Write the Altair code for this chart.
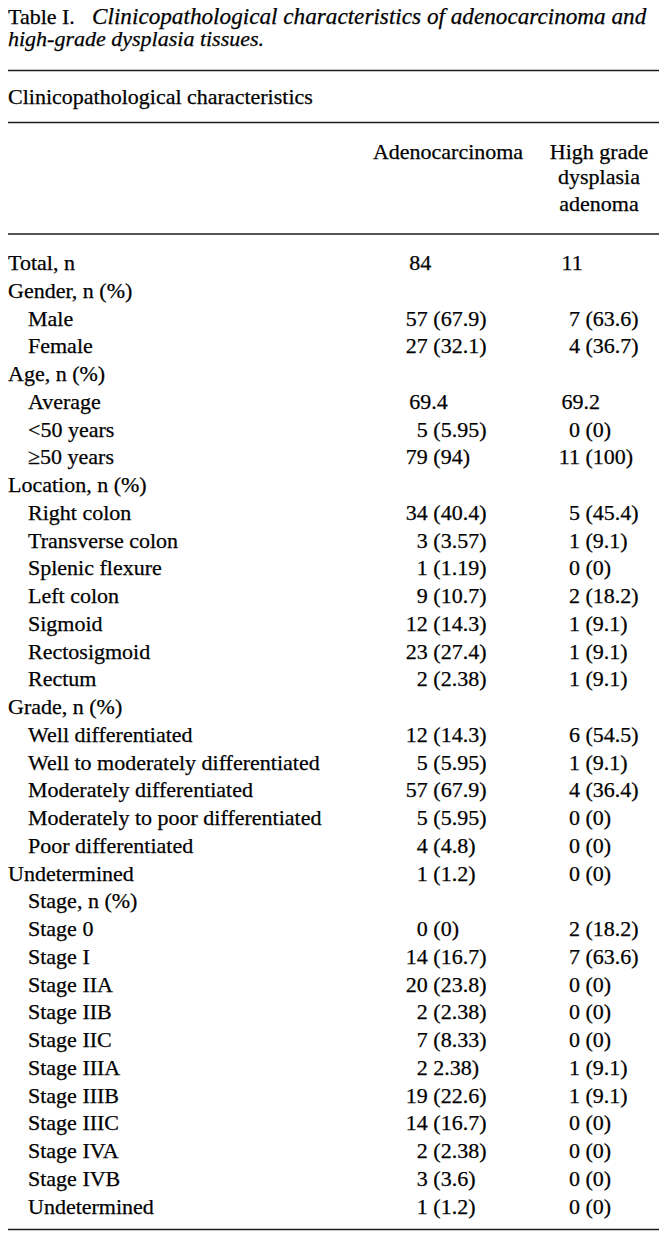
import altair as alt
import pandas as pd

# ---------------- data ----------------
title_prefix = "Table I."
title_line1 = "Clinicopathological characteristics of adenocarcinoma and"
title_line2 = "high-grade dysplasia tissues."
stub_header = "Clinicopathological characteristics"
adeno_header = "Adenocarcinoma"
hgd_header_lines = ["High grade", "dysplasia", "adenoma"]

labels = [
    "Total, n", "Gender, n (%)", "Male", "Female",
    "Age, n (%)", "Average", "<50 years", "\u226550 years",
    "Location, n (%)", "Right colon", "Transverse colon", "Splenic flexure",
    "Left colon", "Sigmoid", "Rectosigmoid", "Rectum",
    "Grade, n (%)", "Well differentiated", "Well to moderately differentiated",
    "Moderately differentiated", "Moderately to poor differentiated",
    "Poor differentiated", "Undetermined",
    "Stage, n (%)", "Stage 0", "Stage I", "Stage IIA", "Stage IIB", "Stage IIC",
    "Stage IIIA", "Stage IIIB", "Stage IIIC", "Stage IVA", "Stage IVB",
    "Undetermined",
]
indent = [
    0, 0, 1, 1,
    0, 1, 1, 1,
    0, 1, 1, 1, 1, 1, 1, 1,
    0, 1, 1, 1, 1, 1, 0,
    1, 1, 1, 1, 1, 1, 1, 1, 1, 1, 1, 1,
]
adeno = [
    "84", "", "57 (67.9)", "27 (32.1)",
    "", "69.4", "5 (5.95)", "79 (94)",
    "", "34 (40.4)", "3 (3.57)", "1 (1.19)", "9 (10.7)", "12 (14.3)",
    "23 (27.4)", "2 (2.38)",
    "", "12 (14.3)", "5 (5.95)", "57 (67.9)", "5 (5.95)", "4 (4.8)", "1 (1.2)",
    "", "0 (0)", "14 (16.7)", "20 (23.8)", "2 (2.38)", "7 (8.33)", "2 2.38)",
    "19 (22.6)", "14 (16.7)", "2 (2.38)", "3 (3.6)", "1 (1.2)",
]
hgd = [
    "11", "", "7 (63.6)", "4 (36.7)",
    "", "69.2", "0 (0)", "11 (100)",
    "", "5 (45.4)", "1 (9.1)", "0 (0)", "2 (18.2)", "1 (9.1)", "1 (9.1)",
    "1 (9.1)",
    "", "6 (54.5)", "1 (9.1)", "4 (36.4)", "0 (0)", "0 (0)", "0 (0)",
    "", "2 (18.2)", "7 (63.6)", "0 (0)", "0 (0)", "0 (0)", "1 (9.1)",
    "1 (9.1)", "0 (0)", "0 (0)", "0 (0)", "0 (0)",
]

# ---------------- layout ----------------
FONT = "Liberation Serif"
FS = 22
INK = "#000000"
X_LEFT, X_RIGHT = 3, 655
Y_TOP, Y_BOT = 8, 1232
ROW0, ROW_STEP = 270, 27.75
ANCHORS = [422.8, 575.0]
SPACE = 5.5
PLAIN_OFFSET = -18.5

X = alt.Scale(domain=[X_LEFT, X_RIGHT], nice=False, zero=False)
Y = alt.Scale(domain=[Y_TOP, Y_BOT], nice=False, zero=False, reverse=True)


def enc(**kw):
    return dict(
        x=alt.X("x:Q", scale=X, axis=None),
        y=alt.Y("y:Q", scale=Y, axis=None),
        **kw,
    )


def text_layer(df, align="left", size=FS, style="normal"):
    return alt.Chart(df).mark_text(
        align=align, baseline="alphabetic", font=FONT, fontSize=size,
        fontStyle=style, color=INK, stroke=INK, strokeWidth=0.25,
    ).encode(**enc(text="t:N"))


# title
title_up = pd.DataFrame({"x": [3], "y": [24], "t": [title_prefix]})
title_it1 = pd.DataFrame({"x": [87], "y": [24], "t": [title_line1]})
title_it2 = pd.DataFrame({"x": [3], "y": [46], "t": [title_line2]})

# headers
hdr_stub = pd.DataFrame({"x": [3], "y": [103.5], "t": [stub_header]})
hdr_adeno = pd.DataFrame({"x": [443], "y": [158.5], "t": [adeno_header]})
hdr_hgd = pd.DataFrame({"x": [594] * 3, "y": [158.5, 184, 210.5],
                        "t": hgd_header_lines})

# rules
rules = pd.DataFrame({"x": [X_LEFT] * 4, "x2": [654] * 4,
                      "y": [70.5, 122.5, 234, 1229.5]})

# body rows
row_y = [ROW0 + i * ROW_STEP for i in range(len(labels))]
lab_df = pd.DataFrame({
    "x": [3 + 20 * d for d in indent],
    "y": row_y,
    "t": labels,
})

n_rows, rest_rows, plain_rows = [], [], []
for col, values in enumerate([adeno, hgd]):
    a = ANCHORS[col]
    for i, v in enumerate(values):
        if not v:
            continue
        if " " in v:
            n, rest = v.split(" ", 1)
            n_rows.append({"x": a, "y": row_y[i], "t": n})
            rest_rows.append({"x": a + SPACE, "y": row_y[i], "t": rest})
        else:
            plain_rows.append({"x": a + PLAIN_OFFSET, "y": row_y[i], "t": v})

layers = [
    text_layer(title_up, size=22),
    text_layer(title_it1, size=23.2, style="italic"),
    text_layer(title_it2, size=22, style="italic"),
    text_layer(hdr_stub),
    text_layer(hdr_adeno, align="center"),
    text_layer(hdr_hgd, align="center"),
    alt.Chart(rules).mark_rule(color="#1c1c1c", strokeWidth=1.7).encode(
        x=alt.X("x:Q", scale=X, axis=None),
        x2="x2:Q",
        y=alt.Y("y:Q", scale=Y, axis=None),
    ),
    text_layer(lab_df),
    text_layer(pd.DataFrame(n_rows), align="right"),
    text_layer(pd.DataFrame(rest_rows), align="left"),
    text_layer(pd.DataFrame(plain_rows), align="left"),
]

chart = alt.layer(*layers).properties(
    width=X_RIGHT - X_LEFT, height=Y_BOT - Y_TOP, padding=0,
    background="white",
    autosize=alt.AutoSizeParams(type="none"),
).configure_view(strokeWidth=0)

chart.save("out.html", embed_options={"renderer": "svg", "actions": False})
